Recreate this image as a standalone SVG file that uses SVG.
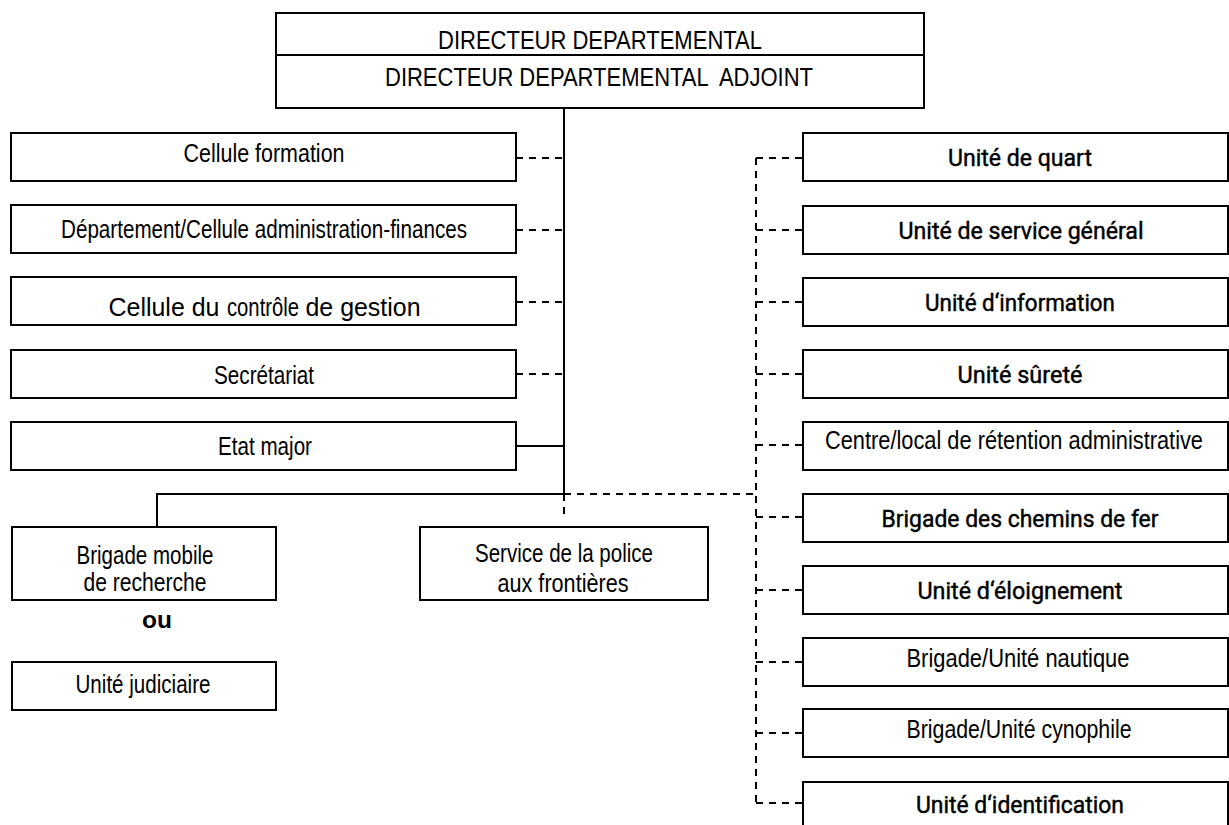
<svg xmlns="http://www.w3.org/2000/svg" width="1229" height="825" viewBox="0 0 1229 825">
<style>
.box{fill:#fff;stroke:#000;stroke-width:2}
.ln{fill:none;stroke:#000;stroke-width:2}
.ds{fill:none;stroke:#000;stroke-width:2;stroke-dasharray:7 6}
.t{font-family:"Liberation Sans Narrow","Liberation Sans",Arial,sans-serif;font-size:25px;fill:#000;text-anchor:middle}
.m{font-family:Roboto,"Liberation Sans",Arial,sans-serif;font-weight:400;font-size:24px;fill:#000;stroke:#000;stroke-width:0.45;text-anchor:middle}
</style>
<rect width="1229" height="825" fill="#fff"/>
<g id="connectors">
<line class="ln" x1="564" y1="108" x2="564" y2="494"/>
<line class="ds" x1="516" y1="158" x2="564" y2="158"/>
<line class="ds" x1="516" y1="230" x2="564" y2="230"/>
<line class="ds" x1="516" y1="302" x2="564" y2="302"/>
<line class="ds" x1="516" y1="374" x2="564" y2="374"/>
<line class="ln" x1="516" y1="446" x2="564" y2="446"/>
<polyline class="ln" points="564,494 157,494 157,527"/>
<line class="ds" x1="564" y1="494" x2="564" y2="514"/>
<line class="ds" x1="564" y1="494" x2="756" y2="494"/>
<line class="ds" x1="756" y1="158" x2="756" y2="803"/>
<line class="ds" x1="756" y1="158" x2="803" y2="158"/>
<line class="ds" x1="756" y1="230" x2="803" y2="230"/>
<line class="ds" x1="756" y1="302" x2="803" y2="302"/>
<line class="ds" x1="756" y1="374" x2="803" y2="374"/>
<line class="ds" x1="756" y1="445" x2="803" y2="445"/>
<line class="ds" x1="756" y1="517" x2="803" y2="517"/>
<line class="ds" x1="756" y1="590" x2="803" y2="590"/>
<line class="ds" x1="756" y1="662" x2="803" y2="662"/>
<line class="ds" x1="756" y1="733" x2="803" y2="733"/>
<line class="ds" x1="756" y1="803" x2="803" y2="803"/>
</g>
<g id="directeur">
<rect class="box" x="276" y="13" width="648" height="95"/>
<line class="ln" x1="276" y1="55" x2="924" y2="55"/>
<text class="t" x="600" y="49" font-size="26" textLength="324" lengthAdjust="spacingAndGlyphs">DIRECTEUR DEPARTEMENTAL</text>
<text class="t" x="599" y="86" font-size="26" textLength="428" lengthAdjust="spacingAndGlyphs" xml:space="preserve">DIRECTEUR DEPARTEMENTAL  ADJOINT</text>
</g>
<g id="cellule-formation">
<rect class="box" x="11" y="133" width="505" height="48"/>
<text class="t" x="264" y="162" textLength="161" lengthAdjust="spacingAndGlyphs">Cellule formation</text>
</g>
<g id="departement">
<rect class="box" x="11" y="205" width="505" height="48"/>
<text class="t" x="264" y="238" textLength="406" lengthAdjust="spacingAndGlyphs">Département/Cellule administration-finances</text>
</g>
<g id="controle-gestion">
<rect class="box" x="11" y="277" width="505" height="48"/>
<text class="t" x="164" y="316" font-size="27" textLength="111" lengthAdjust="spacingAndGlyphs">Cellule du</text>
<text class="t" x="263" y="316" font-size="19" textLength="72" lengthAdjust="spacingAndGlyphs">contrôle</text>
<text class="t" x="363" y="316" font-size="26" textLength="115" lengthAdjust="spacingAndGlyphs">de gestion</text>
</g>
<g id="secretariat">
<rect class="box" x="11" y="350" width="505" height="48"/>
<text class="t" x="264" y="384" textLength="100" lengthAdjust="spacingAndGlyphs">Secrétariat</text>
</g>
<g id="etat-major">
<rect class="box" x="11" y="422" width="505" height="48"/>
<text class="t" x="265" y="455" textLength="94" lengthAdjust="spacingAndGlyphs">Etat major</text>
</g>
<g id="brigade-mobile">
<rect class="box" x="12" y="527" width="264" height="73"/>
<text class="t" x="145" y="564" textLength="137" lengthAdjust="spacingAndGlyphs">Brigade mobile</text>
<text class="t" x="145" y="591" textLength="123" lengthAdjust="spacingAndGlyphs">de recherche</text>
</g>
<g id="ou">
<text x="157" y="628" font-family="Liberation Sans, Arial, sans-serif" font-weight="bold" font-size="24" text-anchor="middle" textLength="30" lengthAdjust="spacingAndGlyphs">ou</text>
</g>
<g id="unite-judiciaire">
<rect class="box" x="12" y="662" width="264" height="48"/>
<text class="t" x="143" y="693" textLength="135" lengthAdjust="spacingAndGlyphs">Unité judiciaire</text>
</g>
<g id="police-frontieres">
<rect class="box" x="420" y="527" width="288" height="73"/>
<text class="t" x="564" y="562" textLength="178" lengthAdjust="spacingAndGlyphs">Service de la police</text>
<text class="t" x="563" y="592" textLength="131" lengthAdjust="spacingAndGlyphs">aux frontières</text>
</g>
<g id="unite-quart">
<rect class="box" x="803" y="133" width="425" height="48"/>
<text class="m" x="1020" y="166" textLength="144" lengthAdjust="spacingAndGlyphs">Unité de quart</text>
</g>
<g id="unite-service-general">
<rect class="box" x="803" y="206" width="425" height="48"/>
<text class="m" x="1021" y="239" textLength="245" lengthAdjust="spacingAndGlyphs">Unité de service général</text>
</g>
<g id="unite-information">
<rect class="box" x="803" y="278" width="425" height="48"/>
<text class="m" x="1020" y="311" textLength="190" lengthAdjust="spacingAndGlyphs">Unité d‘information</text>
</g>
<g id="unite-surete">
<rect class="box" x="803" y="350" width="425" height="48"/>
<text class="m" x="1020" y="383" textLength="125" lengthAdjust="spacingAndGlyphs">Unité sûreté</text>
</g>
<g id="centre-retention">
<rect class="box" x="803" y="422" width="425" height="48"/>
<text class="t" x="1014" y="449" font-size="21" textLength="378" lengthAdjust="spacingAndGlyphs">Centre/local de rétention administrative</text>
</g>
<g id="brigade-chemins-fer">
<rect class="box" x="803" y="494" width="425" height="48"/>
<text class="m" x="1020" y="527" textLength="277" lengthAdjust="spacingAndGlyphs">Brigade des chemins de fer</text>
</g>
<g id="unite-eloignement">
<rect class="box" x="803" y="566" width="425" height="48"/>
<text class="m" x="1020" y="599" textLength="205" lengthAdjust="spacingAndGlyphs">Unité d‘éloignement</text>
</g>
<g id="brigade-nautique">
<rect class="box" x="803" y="638" width="425" height="48"/>
<text class="t" x="1018" y="667" textLength="223" lengthAdjust="spacingAndGlyphs">Brigade/Unité nautique</text>
</g>
<g id="brigade-cynophile">
<rect class="box" x="803" y="709" width="425" height="48"/>
<text class="t" x="1019" y="738" textLength="225" lengthAdjust="spacingAndGlyphs">Brigade/Unité cynophile</text>
</g>
<g id="unite-identification">
<rect class="box" x="803" y="782" width="425" height="48"/>
<text class="m" x="1020" y="813" textLength="208" lengthAdjust="spacingAndGlyphs">Unité d‘identification</text>
</g>
</svg>
